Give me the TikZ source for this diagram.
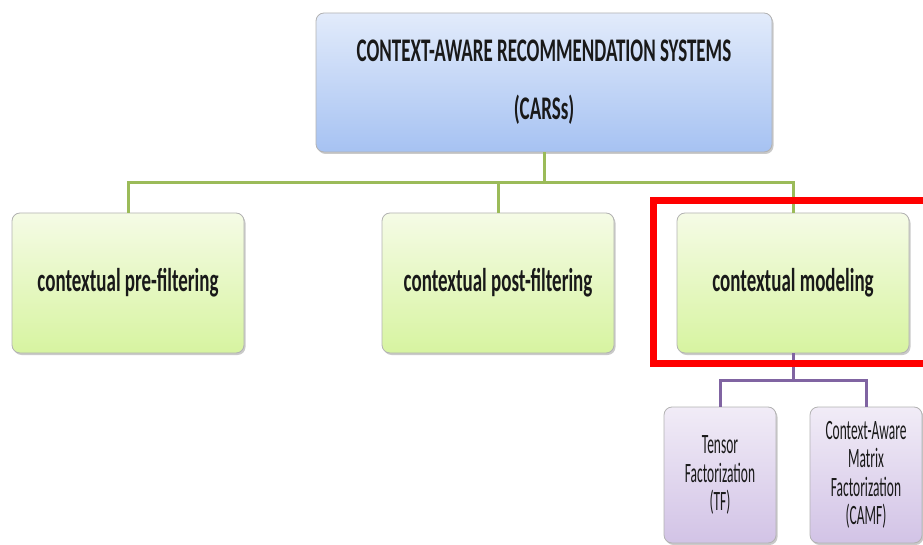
\documentclass[tikz,border=0pt]{standalone}
\usepackage{fontspec}
\setmainfont{Carlito}
\usetikzlibrary{shadows}
\definecolor{topA}{HTML}{E2EBFB}
\definecolor{topB}{HTML}{A6C2F2}
\definecolor{grnA}{HTML}{F5FBE6}
\definecolor{grnB}{HTML}{D7F4A0}
\definecolor{purA}{HTML}{F1ECF7}
\definecolor{purB}{HTML}{D2C3E6}
\definecolor{gline}{HTML}{9BBB59}
\definecolor{pline}{HTML}{8064A2}
\newcommand{\hs}[1]{\scalebox{0.575}[1]{#1}}
\newcommand{\hp}[1]{\scalebox{0.48}[1]{#1}}
\tikzset{
  boxbase/.style={draw=black!30, line width=0.8pt, rounded corners=8pt, inner sep=0pt,
    drop shadow={shadow xshift=1.5pt, shadow yshift=-2pt, opacity=0.35, fill=black!60},
    text=black!90, align=center, font=\bfseries},
  topbox/.style={boxbase, top color=topA, bottom color=topB, minimum width=456pt, minimum height=139pt,
    font=\bfseries\fontsize{33}{58}\selectfont},
  greenbox/.style={boxbase, top color=grnA, bottom color=grnB, minimum width=232pt, minimum height=140pt,
    font=\bfseries\fontsize{33}{38}\selectfont},
  purplebox/.style={boxbase, top color=purA, bottom color=purB, minimum width=112pt, minimum height=136pt,
    font=\fontsize{28}{28.5}\selectfont},
  gconn/.style={draw=gline, line width=3pt},
  pconn/.style={draw=pline, line width=3pt},
  redframe/.style={draw=red, line width=7pt}
}
\begin{document}
\begin{tikzpicture}[x=1pt,y=-1pt]
\useasboundingbox (0,0) rectangle (923,545);
\node[topbox] (top) at (544,82.5) {\hs{CONTEXT-AWARE RECOMMENDATION SYSTEMS}\\\hs{(CARSs)}};
\node[greenbox] (pre) at (128,283) {\hs{contextual pre-filtering}};
\node[greenbox] (post) at (498,283) {\hs{contextual post-filtering}};
\node[greenbox] (model) at (793,283) {\hs{contextual modeling}};
\node[purplebox] (tf) at (720,475) {\hp{Tensor}\\\hp{Factorization}\\\hp{(TF)}};
\node[purplebox] (camf) at (866,475) {\hp{Context-Aware}\\\hp{Matrix}\\\hp{Factorization}\\\hp{(CAMF)}};
\coordinate (hub) at (544,183);
\coordinate (phub) at (793,380);
\draw[gconn] (top.south) -- (hub);
\draw[gconn] (pre.north) |- (hub);
\draw[gconn] (post.north) |- (hub);
\draw[gconn] (model.north) |- (hub);
\draw[pconn] (model.south) -- (phub);
\draw[pconn] (tf.north) |- (phub);
\draw[pconn] (camf.north) |- (phub);
\coordinate (rA) at (653,200.5);
\coordinate (rB) at (945,363);
\draw[redframe] (rA) rectangle (rB);
\end{tikzpicture}
\end{document}
